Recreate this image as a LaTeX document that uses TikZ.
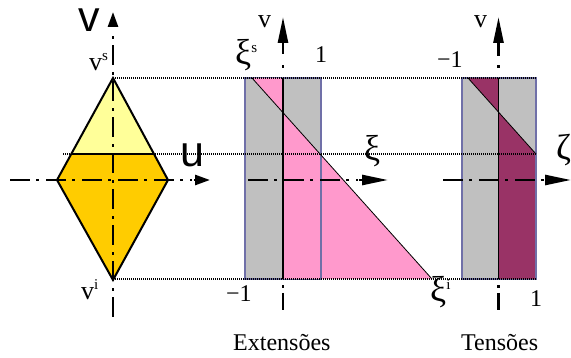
\documentclass[tikz,border=0pt]{standalone}
\usepackage{fontspec}
\setmainfont{Liberation Serif}
\newfontfamily\sansf{Liberation Sans}
\usetikzlibrary{arrows.meta}
\definecolor{ltyellow}{HTML}{FFFF99}
\definecolor{goldf}{HTML}{FFCC00}
\definecolor{pinkf}{HTML}{FF99CC}
\definecolor{grayf}{HTML}{C0C0C0}
\definecolor{plumf}{HTML}{993366}
\definecolor{edgeblue}{HTML}{7070A8}
\newcommand{\supx}[1]{\raisebox{0.42em}{\fontsize{15}{15}\selectfont #1}}
\newcommand{\supg}[1]{\raisebox{0.36em}{\fontsize{15}{15}\selectfont #1}}
\begin{document}
\begin{tikzpicture}[x=1pt,y=-1pt,
  lbl/.style={inner sep=0pt, anchor=base west, font=\fontsize{24}{24}\selectfont},
  vlbl/.style={inner sep=0pt, anchor=base west, font=\fontsize{26}{26}\selectfont},
  glbl/.style={inner sep=0pt, anchor=base west, font=\fontsize{36}{36}\selectfont},
  biglbl/.style={inner sep=0pt, font=\fontsize{43}{43}\selectfont\sansf},
  axisline/.style={line width=2.6pt, dash pattern=on 20pt off 6pt on 3pt off 7pt},
  dotmark/.style={line width=2.6pt},
  shortarrow/.style={line width=2.6pt, -{Triangle[length=15pt,width=10pt]}},
  longarrow/.style={line width=2.6pt, -{Triangle[length=26pt,width=10pt]}},
  guide/.style={line width=1.1pt, dash pattern=on 1.2pt off 0.8pt},
  panelbox/.style={draw=edgeblue, line width=1.2pt, fill=grayf},
  diag/.style={line width=0.8pt}]
\useasboundingbox (0,0) rectangle (571,358);

% ---------- coordinates ----------
\coordinate (T) at (113,78);
\coordinate (B) at (113,280);
\coordinate (L) at (57,180);
\coordinate (R) at (168,180);
\coordinate (HL) at (71.3,154);
\coordinate (HR) at (154,154);

% ---------- middle panel (Extensoes) ----------
\draw[panelbox] (245,78) rectangle (321,279);
\fill[pinkf] (252,78) -- (283,78) -- (283,112.6) -- cycle;
\fill[pinkf] (283,112.6) -- (283,279) -- (432,279) -- cycle;
\draw[edgeblue, line width=1.2pt] (321,78) -- (321,279);
\draw[diag] (252,78) -- (432,279);
\draw[line width=1.3pt] (283,78) -- (283,279);

% ---------- right panel (Tensoes) ----------
\draw[panelbox] (462,78) rectangle (536,279);
\fill[plumf] (468,78) -- (498.5,78) -- (498.5,112) -- cycle;
\fill[plumf] (498.5,112) -- (536,154) -- (536,279) -- (498.5,279) -- cycle;
\draw[edgeblue, line width=1.2pt] (536,78) -- (536,279);
\draw[diag] (468,78) -- (536,154);
\draw[line width=1.3pt] (498.5,78) -- (498.5,279);

% ---------- guide lines ----------
\draw[guide] (113,78) -- (536,78);
\draw[guide] (63,154) -- (536,154);
\draw[guide] (113,279) -- (536,279);

% ---------- diamond ----------
\fill[goldf] (T) -- (R) -- (B) -- (L) -- cycle;
\fill[ltyellow] (T) -- (HR) -- (HL) -- cycle;
\draw[line width=1.6pt] (HL) -- (HR);
\draw[line width=2pt, line join=miter] (T) -- (R) -- (B) -- (L) -- cycle;

% ---------- diamond axes ----------
\draw[axisline] (10,180) -- (192,180);
\draw[shortarrow] (194,180) -- (210,180);
\draw[axisline] (113,317) -- (113,36);
\draw[shortarrow] (113,27) -- (113,12);

% ---------- middle axes ----------
\draw[axisline] (248,180) -- (358,180);
\draw[longarrow] (359,180) -- (388,180);
\draw[dotmark] (283,65.5) -- (283,68.5);
\draw[longarrow] (283,54) -- (283,17);
\draw[dotmark] (283,285.5) -- (283,288.5);
\draw[dotmark] (283,293) -- (283,310);

% ---------- right axes ----------
\draw[axisline] (443,180) -- (550,180);
\draw[longarrow] (553,180) -- (571,180);
\draw[dotmark] (498.5,65.5) -- (498.5,68.5);
\draw[longarrow] (498.5,56) -- (498.5,17);
\draw[dotmark] (498.5,285.5) -- (498.5,288.5);
\draw[dotmark] (498.5,293) -- (498.5,310);

% ---------- labels ----------
\node[biglbl] (vbig) at (89,20) {v};
\node[biglbl] (ubig) at (192.5,155) {u};
\node[vlbl] (vs) at (89,71) {v\supx{s}};
\node[vlbl] (vi) at (81,300) {v\supx{i}};

\node[glbl] (xis) at (235,65) {ξ\supg{s}};
\node[vlbl] (vmid) at (258,28) {v};
\node[lbl] (onemid) at (315,63) {1};
\node[lbl] (mone) at (226,302) {−1};
\node[glbl] (xii) at (430,302) {ξ\supg{i}};
\node[glbl] (xiax) at (364,161) {ξ};
\node[lbl] (ext) at (233,351) {Extensões};

\node[vlbl] (vright) at (474,28) {v};
\node[lbl] (monert) at (437,68) {−1};
\node[lbl] (onert) at (530,307) {1};
\node[glbl] (zeta) at (556,160) {ζ};
\node[lbl] (ten) at (461,351) {Tensões};
\end{tikzpicture}
\end{document}
